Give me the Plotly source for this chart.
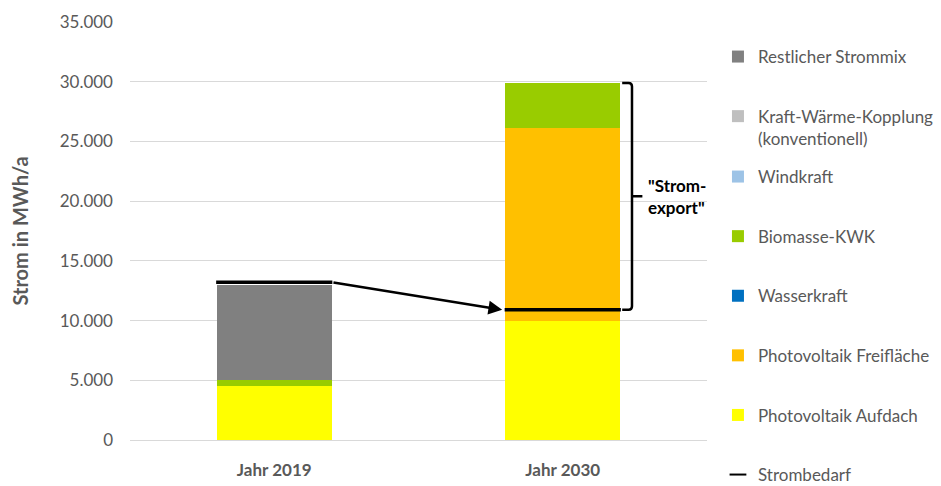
import plotly.graph_objects as go

# Daten
years = ['Jahr 2019', 'Jahr 2030']

pv_aufdach = [4550, 10000]
pv_freiflaeche = [0, 16100]
wasserkraft = [0, 0]
biomasse = [500, 3800]
windkraft = [0, 0]
kwk_konv = [0, 0]
restlicher_mix = [7950, 0]
strombedarf = [13200, 10900]

# Stapel-Reihenfolge von unten nach oben
series = [
    ('Photovoltaik Aufdach', pv_aufdach, '#FFFF00', 'legend2', 5),
    ('Photovoltaik Freifläche', pv_freiflaeche, '#FFC000', 'legend2', 4),
    ('Wasserkraft', wasserkraft, '#0070C0', 'legend2', 3),
    ('Biomasse-KWK', biomasse, '#99CC00', 'legend2', 2),
    ('Windkraft', windkraft, '#9DC3E6', 'legend2', 1),
    ('Kraft-Wärme-Kopplung<br>(konventionell)', kwk_konv, '#BFBFBF', 'legend', 2),
    ('Restlicher Strommix', restlicher_mix, '#808080', 'legend', 1),
]

FONT = 'Lato'
GRAY = '#595959'
H = 478  # page body has an 8px margin

fig = go.Figure()

for name, vals, color, leg, rank in series:
    fig.add_trace(go.Bar(
        x=years, y=vals, name=name,
        marker=dict(color=color, line=dict(width=0)),
        legend=leg, legendgroup=name, legendrank=rank,
    ))

# Strombedarf als horizontale Linie über die Balkenbreite
fig.add_trace(go.Scatter(
    x=years, y=strombedarf, name='Strombedarf', mode='markers',
    marker=dict(symbol='line-ew-open', size=83, color='black',
                line=dict(color='black', width=3.5)),
    legend='legend2', legendgroup='Strombedarf', legendrank=6,
))

# Pfeil vom Bedarf 2019 zum Bedarf 2030
fig.add_annotation(
    x=0.79, y=strombedarf[1], ax=0.2, ay=strombedarf[0],
    xref='x', yref='y', axref='x', ayref='y',
    text='', showarrow=True, arrowhead=2, arrowsize=1.1,
    arrowwidth=2.5, arrowcolor='black', standoff=0,
)

# Klammer für "Stromexport"
total_2030 = pv_aufdach[1] + pv_freiflaeche[1] + wasserkraft[1] + biomasse[1] + windkraft[1] + kwk_konv[1] + restlicher_mix[1]
top = total_2030
bot = strombedarf[1]
mid = (top + bot) / 2
x0, x1, x2 = 0.853, 0.870, 0.888
rx, ry = 0.006, 300
path = (f'M {x0},{top} L {x1 - rx},{top} Q {x1},{top} {x1},{top - ry} '
        f'L {x1},{bot + ry} Q {x1},{bot} {x1 - rx},{bot} L {x0},{bot} '
        f'M {x1},{mid} L {x2},{mid}')
fig.add_shape(type='path', path=path, xref='paper', yref='y',
              line=dict(color='black', width=2.5))

fig.add_annotation(
    x=0.895, y=mid, xref='paper', yref='y',
    text='<b>"Strom-<br>export"</b>', showarrow=False,
    xanchor='left', yanchor='middle', align='left',
    font=dict(family=FONT, size=17, color='black'),
)

legend_style = dict(
    x=1.019, xanchor='left', yanchor='top', yref='container',
    traceorder='grouped', tracegroupgap=34.5, valign='top', maxheight=600,
    itemsizing='constant', font=dict(family=FONT, size=17, color=GRAY),
    bgcolor='rgba(0,0,0,0)',
)

fig.update_layout(
    width=933, height=H,
    barmode='stack', bargap=0.6,
    separators=',.',
    plot_bgcolor='white', paper_bgcolor='white',
    margin=dict(l=122, r=234, t=14, b=46, autoexpand=False),
    font=dict(family=FONT, size=17, color=GRAY),
    xaxis=dict(
        showgrid=False, showline=False, ticks='', ticklabelstandoff=18,
        tickfont=dict(family=FONT, size=17, color=GRAY, weight='bold'),
    ),
    yaxis=dict(
        range=[0, 35000], dtick=5000, tickformat=',d',
        showgrid=True, gridcolor='#D9D9D9', gridwidth=1,
        zeroline=True, zerolinecolor='#D9D9D9', zerolinewidth=1,
        ticks='', ticklabelstandoff=16,
        tickfont=dict(family=FONT, size=17, color=GRAY),
        title=dict(text='<b>Strom in MWh/a</b>', standoff=30,
                   font=dict(family=FONT, size=20, color=GRAY)),
    ),
    legend=dict(y=1 - 31 / H, **legend_style),
    legend2=dict(y=1 - 151 / H, **legend_style),
)

fig.write_html('out.html')
